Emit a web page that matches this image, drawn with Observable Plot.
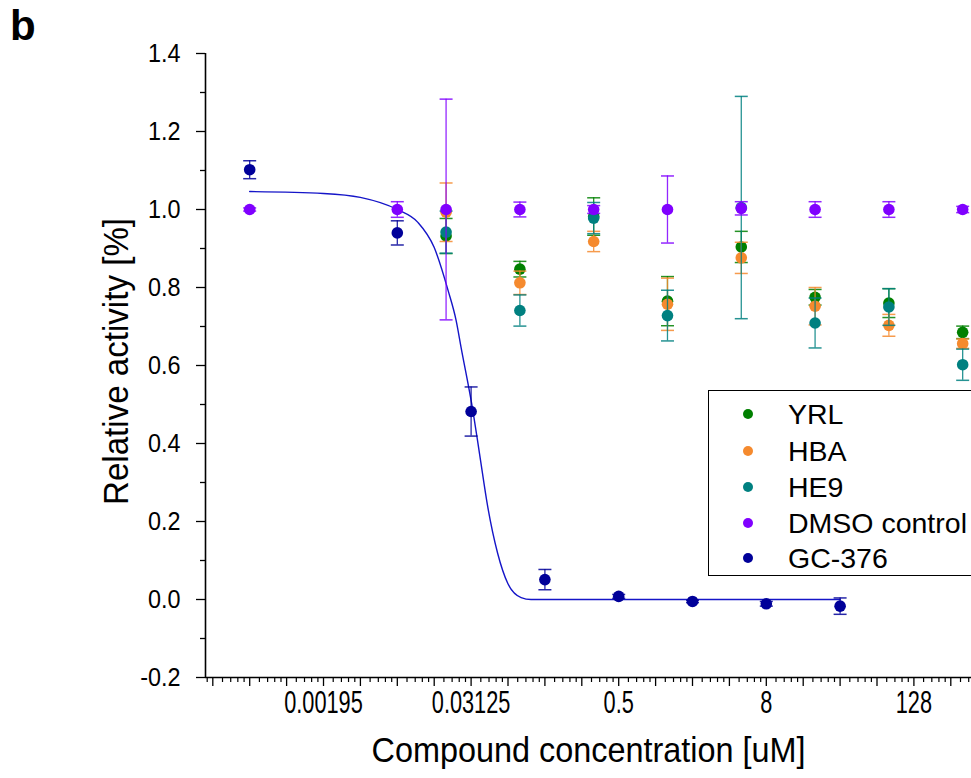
<!DOCTYPE html>
<html><head><meta charset="utf-8">
<script src="https://cdn.jsdelivr.net/npm/d3@7"></script>
<script src="https://cdn.jsdelivr.net/npm/@observablehq/plot@0.6"></script>
<style>
body{margin:0;overflow:hidden;background:#fff;font-family:"Liberation Sans",Arial,sans-serif;}
#wrap{position:relative;width:971px;height:778px;overflow:hidden;background:#fff;}
#panel{position:absolute;left:10px;top:2px;font-weight:bold;font-size:42px;}
#legend{position:absolute;left:708px;top:390px;width:300px;height:186px;border:1.3px solid #000;background:#fff;box-sizing:border-box;}
.li{position:absolute;left:0;height:30px;display:flex;align-items:center;font-size:28.5px;}
.li .d{position:absolute;left:34px;width:10px;height:10px;border-radius:50%;}
.li .t{position:absolute;left:79px;white-space:nowrap;}
</style></head>
<body><div id="wrap"><div id="panel">b</div><div id="legend"></div></div>
<script>
// ---- data ----
const seriesNames = ["YRL", "HBA", "HE9", "DMSO control", "GC-376"];
const seriesColors = ["#008000", "#F58A2E", "#008080", "#8000FF", "#000099"];

const cmpConc = [0.01953, 0.078125, 0.3125, 1.25, 5, 20, 80, 320];
const yrlMean = [0.932, 0.847, 0.982, 0.765, 0.904, 0.775, 0.760, 0.685];
const yrlErr  = [0.045, 0.020, 0.048, 0.063, 0.040, 0.020, 0.037, 0.016];
const hbaMean = [0.993, 0.812, 0.918, 0.757, 0.876, 0.752, 0.703, 0.656];
const hbaErr  = [0.075, 0.030, 0.026, 0.067, 0.040, 0.048, 0.028, 0.012];
const he9Mean = [0.942, 0.741, 0.978, 0.728, 1.005, 0.709, 0.750, 0.602];
const he9Err  = [0.054, 0.040, 0.040, 0.065, 0.285, 0.064, 0.047, 0.040];

const dmsoConc = [0.000488, 0.0078125, 0.01953, 0.078125, 0.3125, 1.25, 5, 20, 80, 320];
const dmsoMean = [1.0, 1.0, 1.0, 1.0, 1.0, 1.0, 1.003, 1.0, 1.0, 1.0];
const dmsoErr  = [0.004, 0.020, 0.283, 0.019, 0.010, 0.086, 0.017, 0.020, 0.020, 0.008];

const gcConc = [0.000488, 0.0078125, 0.03125, 0.125, 0.5, 2, 8, 32];
const gcMean = [1.102, 0.940, 0.482, 0.051, 0.008, -0.005, -0.011, -0.017];
const gcErr  = [0.023, 0.031, 0.063, 0.026, 0.005, 0.003, 0.006, 0.021];

// fitted curve for GC-376
const fitConc  = [0.000488, 0.00195, 0.0039, 0.0078, 0.0115, 0.0156, 0.0203, 0.0236, 0.0259, 0.0324, 0.0366, 0.0428, 0.0515, 0.0623, 0.080, 0.0963, 32];
const fitValue = [1.046, 1.041, 1.031, 1.0, 0.967, 0.903, 0.792, 0.715, 0.646, 0.482, 0.374, 0.236, 0.118, 0.041, 0.005, 0.0, 0.0];

const xLabelVals = [2 ** -9, 2 ** -5, 2 ** -1, 2 ** 3, 2 ** 7];
const xLabelText = ["0.00195", "0.03125", "0.5", "8", "128"];
const yMajor = [-0.2, 0, 0.2, 0.4, 0.6, 0.8, 1.0, 1.2, 1.4];
const yMinor = [-0.1, 0.1, 0.3, 0.5, 0.7, 0.9, 1.1, 1.3];
const xTitle = "Compound concentration [uM]";
const yTitle = "Relative activity [%]";

// ---- build ----
const seriesData = [
  [cmpConc, yrlMean, yrlErr],
  [cmpConc, hbaMean, hbaErr],
  [cmpConc, he9Mean, he9Err],
  [dmsoConc, dmsoMean, dmsoErr],
  [gcConc, gcMean, gcErr]
];
const xMin = 2 ** -12.198, xMax = 2 ** 8.561;
const xMajor = d3.range(-12, 9).map(k => 2 ** k);
const xMinor = d3.range(-13, 9).flatMap(k => [1.2, 1.4, 1.6, 1.8].map(m => m * 2 ** k)).filter(v => v > xMin && v < xMax);
const yFmt = d => d.toFixed(1);

const cap = {draw(ctx, size) { const w = Math.sqrt(size / Math.PI); ctx.moveTo(-w, 0); ctx.lineTo(w, 0); }};

const marks = [
  Plot.axisY(yMinor, {tickSize: 5, tickFormat: () => "", label: null, strokeWidth: 1.3}),
  Plot.axisY(yMajor, {tickSize: 9, tickFormat: () => "", label: null, strokeWidth: 1.3}),
  Plot.axisX(xMinor, {tickSize: 5, tickFormat: () => "", label: null, strokeWidth: 1.2}),
  Plot.axisX(xMajor, {tickSize: 9, tickFormat: () => "", label: null, strokeWidth: 1.3}),
  Plot.text(yMajor, {y: d => d, text: yFmt, frameAnchor: "left", dx: -25, textAnchor: "end", fontSize: 26}),
  Plot.text(xLabelVals.map((v, i) => ({v, t: xLabelText[i]})), {x: "v", text: "t", frameAnchor: "bottom", dy: 35, textAnchor: "middle", fontSize: 32}),
  Plot.ruleX([xMin], {stroke: "#000", strokeWidth: 1.6}),
  Plot.ruleY([-0.2], {stroke: "#000", strokeWidth: 1.6}),
  Plot.text([yTitle], {frameAnchor: "left", dx: -89, dy: -4, rotate: -90, textAnchor: "middle", fontSize: 36}),
  Plot.text([xTitle], {frameAnchor: "bottom", dy: 84, textAnchor: "middle", fontSize: 36}),
  Plot.line(fitConc.map((c, i) => ({c, v: fitValue[i]})), {x: "c", y: "v", stroke: "#1515C8", strokeWidth: 1.4, curve: "monotone-x"})
];

seriesData.forEach(([conc, mean, err], s) => {
  const rows = conc.map((c, i) => ({c, v: mean[i], e: err[i]}));
  const col = seriesColors[s];
  marks.push(
    Plot.ruleX(rows, {x: "c", y1: d => d.v - d.e, y2: d => d.v + d.e, stroke: col, strokeWidth: 1.3, strokeOpacity: 0.85}),
    Plot.dot(rows, {x: "c", y: d => d.v + d.e, symbol: cap, r: 6.5, stroke: col, fill: "none", strokeWidth: 1.5, strokeOpacity: 0.85}),
    Plot.dot(rows, {x: "c", y: d => d.v - d.e, symbol: cap, r: 6.5, stroke: col, fill: "none", strokeWidth: 1.5, strokeOpacity: 0.85}),
    Plot.dot(rows, {x: "c", y: "v", r: 5.8, fill: col, stroke: "none"})
  );
});

const chart = Plot.plot({
  width: 971, height: 778,
  marginLeft: 205, marginRight: 0, marginTop: 53, marginBottom: 101,
  x: {type: "log", base: 2, domain: [xMin, xMax]},
  y: {domain: [-0.2, 1.4]},
  style: {fontFamily: '"Liberation Sans", Arial, sans-serif', background: "white", color: "#000", overflow: "visible"},
  marks
});
document.getElementById("wrap").prepend(chart);

// condensed look of the tick labels and the axis titles (horizontal squeeze along the text)
const squeeze = new Map([...xLabelText.map(t => [t, 0.68]), ...yMajor.map(v => [yFmt(v), 0.9]), [xTitle, 0.9], [yTitle, 0.92]]);
d3.select(chart).selectAll("text").each(function () {
  const s = squeeze.get(this.textContent.trim());
  if (!s) return;
  const x = +this.getAttribute("x") || 0;
  const tr = this.getAttribute("transform") || "";
  this.setAttribute("transform", `${tr} translate(${x},0) scale(${s},1) translate(${-x},0)`);
});

// legend
const lg = document.getElementById("legend");
const rowCenters = [23, 60, 96, 132, 167];
seriesNames.forEach((n, i) => {
  const el = document.createElement("div");
  el.className = "li";
  el.style.top = (rowCenters[i] - 15) + "px";
  el.innerHTML = `<span class="d" style="background:${seriesColors[i]}"></span><span class="t">${n}</span>`;
  lg.appendChild(el);
});
</script>
</body></html>
